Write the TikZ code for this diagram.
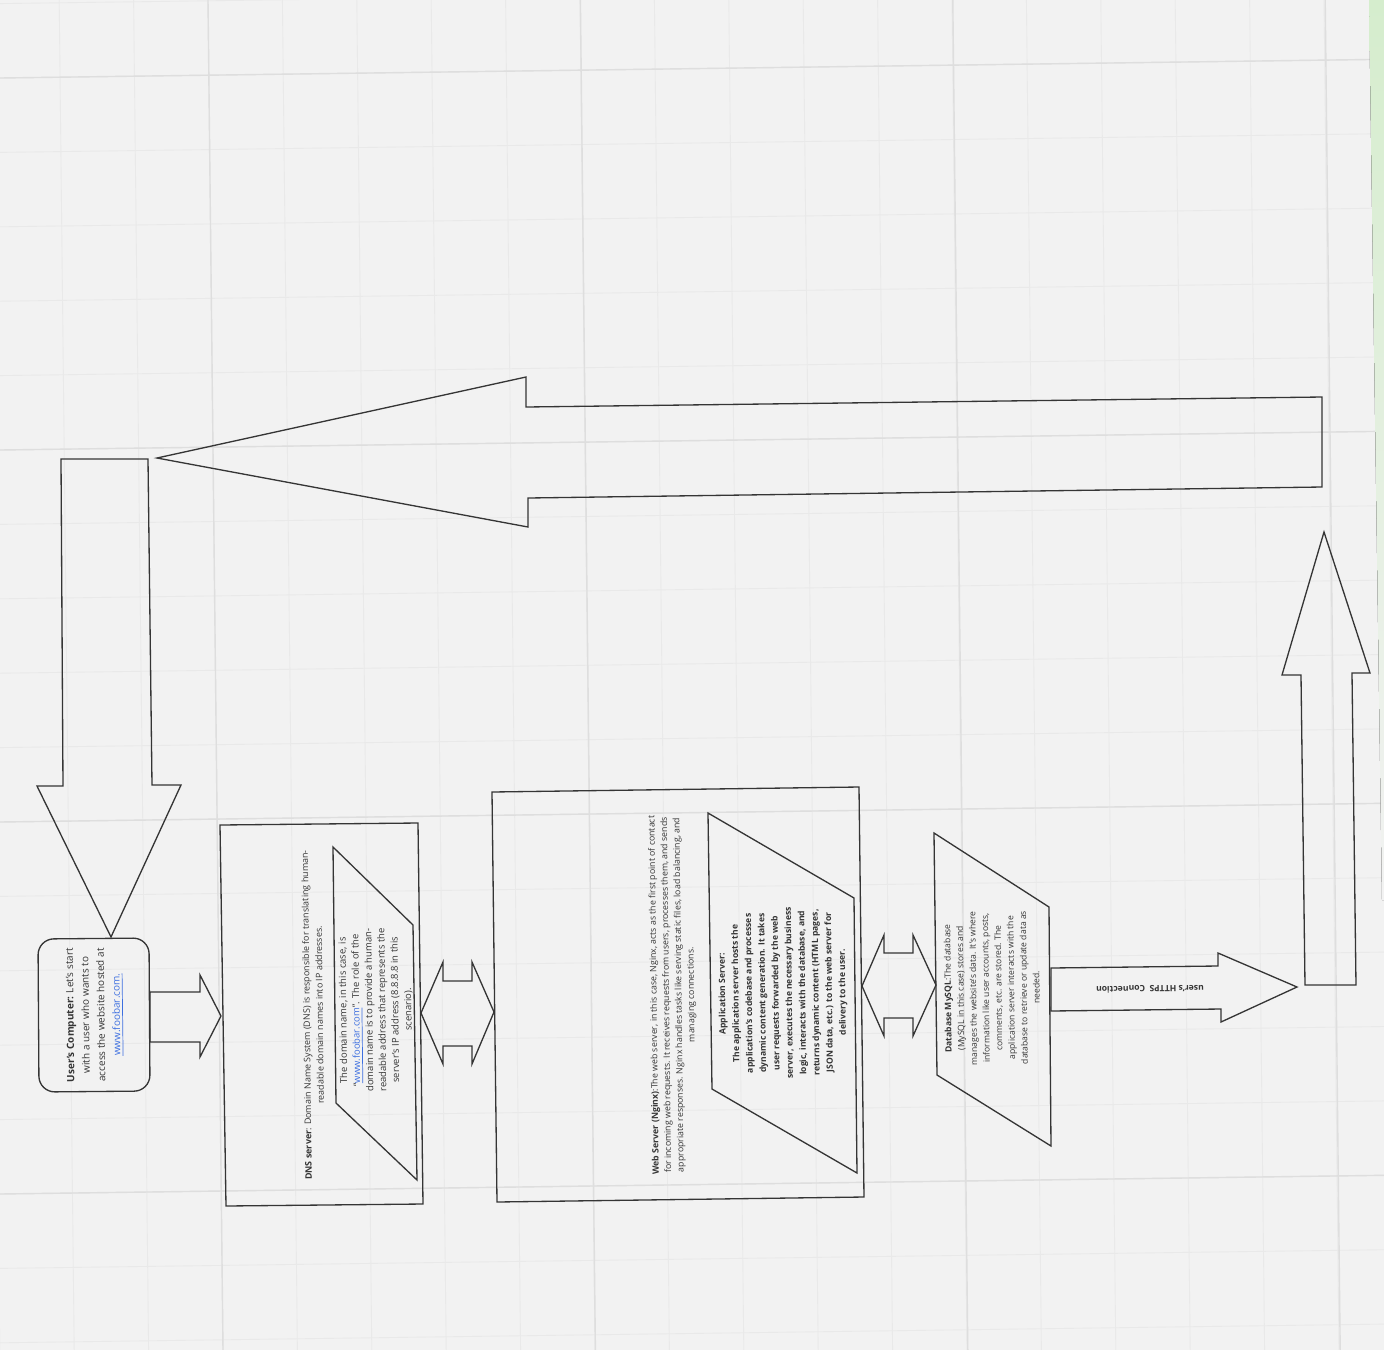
\documentclass[tikz,border=0pt]{standalone}
\usepackage{fontspec}
\setmainfont{Open Sans}
\definecolor{paper}{HTML}{F2F2F2}
\definecolor{gridminor}{HTML}{E9E9E9}
\definecolor{gridmajor}{HTML}{DEDEDE}
\definecolor{ink}{HTML}{353535}
\definecolor{link}{HTML}{3D6FE0}
\definecolor{mint}{HTML}{D5EDCD}
\definecolor{sand}{HTML}{EDE3DA}
\newcommand\lnk[1]{\textcolor{link}{\underline{#1}}}

\begin{document}
\begin{tikzpicture}[x=0.02cm,y=-0.02cm,blk/.style={draw=ink,line width=0.75pt,line join=miter},txt/.style={text=ink,align=center,rotate=90.7,inner sep=0pt}]
\useasboundingbox (0,0) rectangle (1384,1350);
\fill[paper] (0,0) rectangle (1384,1350);
\foreach \i in {-1,...,18}\draw[gridminor,line width=0.5pt] ({59.2+74.4*\i},0)--({74.2+74.4*\i},1350);
\foreach \j in {-1,...,17}\draw[gridminor,line width=0.5pt] (0,{78+74.4*\j})--(1384,{59.3+74.4*\j});
\foreach \x in {208,580.4,952.8,1325.2}\draw[gridmajor,line width=0.8pt] (\x,0)--({\x+15},1350);
\foreach \y in {78,450,822,1194}\draw[gridmajor,line width=0.8pt] (0,\y)--(1384,{\y-18.7});
\fill[top color=mint,middle color=sand,bottom color=paper] (1369,0)--(1384,0)--(1384,900)--(1382,900)--cycle;

\draw[blk] (157,458)--(526,377)--(526,407)--(1322,397)--(1322,487)--(528,498)--(528,527)--cycle;
\draw[blk] (61,459)--(148,459)--(152,785)--(181,785)--(111,937)--(37,786)--(63,786)--cycle;
\draw[blk,rounded corners=9pt] (38,939)--(149,938)--(150,1091)--(39,1092)--cycle;
\draw[blk] (150,992)--(200,992)--(200,975)--(221,1016)--(200,1057)--(200,1042)--(150,1042)--cycle;
\draw[blk] (220,825)--(418,823)--(423,1204)--(226,1206)--cycle;
\draw[blk] (333,847)--(413,925)--(417,1180)--(336,1103)--cycle;
\draw[blk] (421,1013)--(443,962)--(443,981)--(472,981)--(472,962)--(494,1012)--(472,1064)--(472,1046)--(443,1046)--(443,1064)--cycle;
\draw[blk] (492,792)--(859,787)--(864,1197)--(497,1202)--cycle;
\draw[blk] (708,813)--(854,898)--(857,1173)--(712,1089)--cycle;
\draw[blk] (862,986)--(884,935)--(884,953)--(913,953)--(913,935)--(936,985)--(913,1036)--(913,1018)--(884,1018)--(884,1036)--cycle;
\draw[blk] (934,833)--(1049,907)--(1051,1146)--(937,1075)--cycle;
\draw[blk] (1051,968)--(1218,966)--(1218,953)--(1297,987)--(1221,1022)--(1221,1009)--(1051,1011)--cycle;
\draw[blk] (1305,985)--(1301,675)--(1282,675)--(1324,532)--(1370,673)--(1352,673)--(1356,985)--cycle;

\node[txt,font=\fontsize{5.7}{8.8}\selectfont] (comp) at (95,1015) {\textbf{User's Computer:} Let's start\\with a user who wants to\\access the website hosted at\\\lnk{www.foobar.com.}};
\node[txt,font=\fontsize{5.1}{7.4}\selectfont] (dns) at (313,1015) {\textbf{DNS server}: Domain Name System (DNS) is responsible for translating human-\\readable domain names into IP addresses.};
\node[txt,font=\fontsize{5.4}{7.4}\selectfont] (dnsnote) at (376,1010) {The domain name, in this case, is\\``\lnk{www.foobar.com}''. The role of the\\domain name is to provide a human-\\readable address that represents the\\server's IP address (8.8.8.8 in this\\scenario).};
\node[txt,font=\fontsize{5.0}{7.1}\selectfont] (web) at (673,995) {\textbf{Web Server (Nginx)}:The web server, in this case, Nginx, acts as the first point of contact\\for incoming web requests. It receives requests from users, processes them, and sends\\appropriate responses. Nginx handles tasks like serving static files, load balancing, and\\managing connections.};
\node[txt,font=\fontsize{4.9}{7.6}\selectfont\bfseries] (app) at (783,993) {Application Server:\\The application server hosts the\\application's codebase and processes\\dynamic content generation. It takes\\user requests forwarded by the web\\server, executes the necessary business\\logic, interacts with the database, and\\returns dynamic content (HTML pages,\\JSON data, etc.) to the web server for\\delivery to the user.};
\node[txt,font=\fontsize{4.9}{7.2}\selectfont] (db) at (992,988) {\textbf{Database MySQL}:The database\\(MySQL in this case) stores and\\manages the website's data. It's where\\information like user accounts, posts,\\comments, etc. are stored. The\\application server interacts with the\\database to retrieve or update data as\\needed.};
\node[txt,rotate=90,font=\fontsize{4.9}{5}\selectfont\bfseries] (https) at (1150,989) {user's HTTPS\ \ Connection};
\end{tikzpicture}
\end{document}
